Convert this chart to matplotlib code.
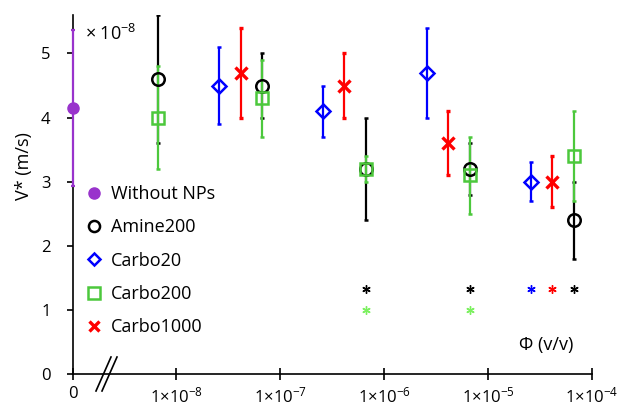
import numpy as np
import matplotlib
matplotlib.use('Agg')
import matplotlib.pyplot as plt
from matplotlib.lines import Line2D

plt.rcParams['font.family'] = ['Open Sans', 'DejaVu Sans']
plt.rcParams['mathtext.fontset'] = 'custom'
plt.rcParams['mathtext.rm'] = 'Open Sans'
plt.rcParams['mathtext.default'] = 'regular'

# Data (V* in units of 1e-8 m/s); the "0" concentration is drawn at 1e-9
without_x = [1e-9]
without_y = [4.15]
without_err = [1.22]

amine_x = [6.7e-9, 6.7e-8, 6.7e-7, 6.7e-6, 6.7e-5]
amine_y = [4.6, 4.5, 3.2, 3.2, 2.4]
amine_err = [1.0, 0.5, 0.8, 0.4, 0.6]

carbo20_x = [2.57e-8, 2.57e-7, 2.57e-6, 2.57e-5]
carbo20_y = [4.5, 4.1, 4.7, 3.0]
carbo20_err = [0.6, 0.4, 0.7, 0.3]

carbo200_x = [6.7e-9, 6.7e-8, 6.7e-7, 6.7e-6, 6.7e-5]
carbo200_y = [4.0, 4.3, 3.2, 3.1, 3.4]
carbo200_err = [0.8, 0.6, 0.2, 0.6, 0.7]

carbo1000_x = [4.15e-8, 4.15e-7, 4.15e-6, 4.15e-5]
carbo1000_y = [4.7, 4.5, 3.6, 3.0]
carbo1000_err = [0.7, 0.5, 0.5, 0.4]

# significance asterisks
star_black_x = [6.7e-7, 6.7e-6, 6.7e-5]
star_black_y = [1.33, 1.33, 1.33]
star_green_x = [6.7e-7, 6.7e-6]
star_green_y = [1.0, 1.0]
star_blue_x = [2.57e-5]
star_blue_y = [1.33]
star_red_x = [4.15e-5]
star_red_y = [1.33]

xticks = [1e-9, 1e-8, 1e-7, 1e-6, 1e-5, 1e-4]
xticklabels = ['0', r'1×10$^{-8}$', r'1×10$^{-7}$', r'1×10$^{-6}$', r'1×10$^{-5}$', r'1×10$^{-4}$']

purple = '#9933cc'
blue = '#0000ff'
green = '#4cc83c'
red = '#ff0000'
lightgreen = '#7cf060'

fig = plt.figure(figsize=(6.21, 4.07), dpi=100)
ax = fig.add_axes([0.117, 0.0811, 0.836, 0.882])

eb = dict(ls='none', elinewidth=1.6, capsize=1.5, capthick=1.6, markersize=9,
          markeredgewidth=1.8, markerfacecolor='none')

ax.errorbar(without_x, without_y, yerr=without_err, color=purple, marker='o',
            ls='none', elinewidth=1.6, capsize=1.5, capthick=1.6, markersize=8,
            clip_on=False, zorder=5)
ax.errorbar(amine_x, amine_y, yerr=amine_err, color='black', marker='o', **eb)
ax.errorbar(carbo20_x, carbo20_y, yerr=carbo20_err, color=blue, marker='D', **dict(eb, markersize=7))
ax.errorbar(carbo200_x, carbo200_y, yerr=carbo200_err, color=green, marker='s', **eb)
ax.errorbar(carbo1000_x, carbo1000_y, yerr=carbo1000_err, color=red, marker='x', **dict(eb, markeredgewidth=2.4))

ast = (6, 2, 0)
ax.plot(star_black_x, star_black_y, ls='none', marker=ast, color='black', markersize=6, mew=1)
ax.plot(star_green_x, star_green_y, ls='none', marker=ast, color=lightgreen, markersize=6, mew=1)
ax.plot(star_blue_x, star_blue_y, ls='none', marker=ast, color=blue, markersize=6, mew=1)
ax.plot(star_red_x, star_red_y, ls='none', marker=ast, color=red, markersize=6, mew=1)

ax.set_xscale('log')
ax.set_xlim(1e-9, 1e-4)
ax.set_ylim(0, 5.6)
ax.set_xticks(xticks)
ax.set_xticklabels(xticklabels)
ax.minorticks_off()
ax.set_yticks([0, 1, 2, 3, 4, 5])
ax.tick_params(axis='x', direction='inout', length=8, width=1.2, labelsize=12, pad=5)
ax.tick_params(axis='y', direction='out', length=4, width=1.2, labelsize=12, pad=12)
for s in ['top', 'right']:
    ax.spines[s].set_visible(False)
for s in ['left', 'bottom']:
    ax.spines[s].set_linewidth(1.2)

ax.set_ylabel('V* (m/s)', fontsize=13)
ax.yaxis.set_label_coords(-0.076, 0.58)
ax.text(0.024, 0.948, r'× 10$^{-8}$', transform=ax.transAxes, fontsize=13, va='center')
ax.text(0.912, 0.08, 'Φ (v/v)', transform=ax.transAxes, fontsize=13, ha='center', va='center')

# axis break marks "//"
for dx in [0, 6]:
    fig.add_artist(Line2D([(96 + dx) / 621, (111 + dx) / 621],
                          [(407 - 391) / 407, (407 - 357) / 407], color='black', lw=1.2))

handles = [
    Line2D([], [], ls='none', marker='o', color=purple, markersize=8),
    Line2D([], [], ls='none', marker='o', color='black', mfc='none', mew=1.8, markersize=8),
    Line2D([], [], ls='none', marker='D', color=blue, mfc='none', mew=1.8, markersize=6),
    Line2D([], [], ls='none', marker='s', color=green, mfc='none', mew=1.8, markersize=8),
    Line2D([], [], ls='none', marker='x', color=red, mew=2.4, markersize=7),
]
labels = ['Without NPs', 'Amine200', 'Carbo20', 'Carbo200', 'Carbo1000']
ax.legend(handles, labels, loc='upper left', bbox_to_anchor=(0.0, 0.562), frameon=False,
          fontsize=13, handlelength=1.0, handletextpad=0.4, labelspacing=0.85,
          borderaxespad=0.3)

fig.savefig('out.png', dpi=100)
